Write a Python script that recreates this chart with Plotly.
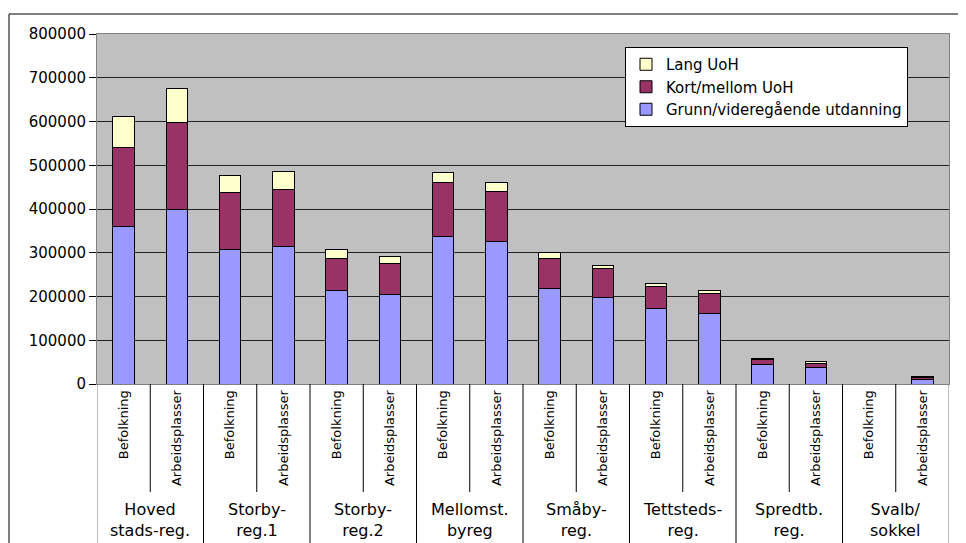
import plotly.graph_objects as go

# ---- data ----
regions = ["Hoved<br>stads-reg.", "Storby-<br>reg.1", "Storby-<br>reg.2", "Mellomst.<br>byreg",
           "Småby-<br>reg.", "Tettsteds-<br>reg.", "Spredtb.<br>reg.", "Svalb/<br>sokkel"]
sub_labels = ["Befolkning", "Arbeidsplasser"]

grunn = [360000, 400000, 308000, 314000, 213000, 205000, 338000, 325000,
         219000, 198000, 173000, 161000, 45000, 38000, 0, 10700]
kort = [180000, 198000, 129000, 131000, 74000, 71000, 123000, 115000,
        68000, 65000, 50000, 46000, 12000, 10000, 0, 5300]
lang = [72000, 77000, 40000, 41000, 20000, 16000, 23000, 21000,
        14000, 8000, 7000, 7000, 1500, 3000, 0, 1500]

series_names = ["Grunn/videregående utdanning", "Kort/mellom UoH", "Lang UoH"]
series_colors = ["#9999FF", "#993366", "#FFFFCC"]

y_ticks = [0, 100000, 200000, 300000, 400000, 500000, 600000, 700000, 800000]

# ---- figure ----
n = len(regions) * len(sub_labels)
xs = list(range(n))
tick_text = [sub_labels[i % 2] for i in xs]

fig = go.Figure()
for name, vals, col in zip(series_names, [grunn, kort, lang], series_colors):
    fig.add_trace(go.Bar(
        x=xs, y=vals, name=name, width=0.4,
        marker=dict(color=col, line=dict(color="black", width=1)),
    ))

FONT = "DejaVu Sans, Arial, sans-serif"
OFF = 8                      # page body margin of the html page
W, H = 966 - OFF, 543 - OFF  # figure size
# plot area in page pixels: x 97..949, y 34..384
ml, mt = 97 - OFF, 34 - OFF
mr = W - (949 - OFF)
mb = H - (384 - OFF)
plot_h = H - mt - mb
plot_w = W - ml - mr

def py(page_y):  # page pixel y -> paper y
    return ((384 - OFF) - (page_y - OFF)) / plot_h

def px(page_x):  # page pixel x -> paper x
    return ((page_x - OFF) - ml) / plot_w

fig.update_layout(
    width=W, height=H,
    margin=dict(l=ml, r=mr, t=mt, b=mb, autoexpand=False),
    barmode="stack",
    paper_bgcolor="white",
    plot_bgcolor="#C0C0C0",
    font=dict(family=FONT, color="black"),
    showlegend=True,
    legend=dict(
        x=px(625), y=py(47), xanchor="left", yanchor="top",
        bgcolor="white", bordercolor="black", borderwidth=1,
        traceorder="reversed", font=dict(size=15, family=FONT),
        tracegroupgap=0,
    ),
    bargap=0.6,
)

fig.update_xaxes(
    range=[-0.5, n - 0.5],
    tickmode="array", tickvals=xs, ticktext=tick_text,
    tickangle=-90, tickfont=dict(size=13, family=FONT, color="black"),
    showgrid=False, zeroline=False,
    showline=True, linecolor="#808080", linewidth=1, mirror=True,
    ticks="",
)
fig.update_yaxes(
    range=[0, 800000],
    tickmode="array", tickvals=y_ticks, ticktext=[str(v) for v in y_ticks],
    tickfont=dict(size=15, family=FONT, color="black"),
    ticks="outside", ticklen=7, tickcolor="black",
    showgrid=True, gridcolor="#222222", gridwidth=1,
    zeroline=False,
    showline=True, linecolor="#808080", linewidth=1, mirror=True,
)

shapes = []
# separators in the category label area
for k in range(n + 1):
    xv = k - 0.5
    if k % 2 == 0:
        y_end = py(543 + 5)
        col = "#808080" if k in (0, n) else "black"
    else:
        y_end = py(492)
        col = "black"
    shapes.append(dict(type="line", xref="x", yref="paper",
                       x0=xv, x1=xv, y0=0, y1=y_end,
                       line=dict(color=col, width=1)))
# outer chart border (extends past the right and bottom edges)
shapes.append(dict(type="line", xref="paper", yref="paper",
                   x0=px(9), x1=px(966 + 10), y0=py(14), y1=py(14),
                   line=dict(color="black", width=1)))
shapes.append(dict(type="line", xref="paper", yref="paper",
                   x0=px(9), x1=px(9), y0=py(14), y1=py(543 + 10),
                   line=dict(color="black", width=1)))
fig.update_layout(shapes=shapes)

annotations = []
for g, lab in enumerate(regions):
    annotations.append(dict(
        x=2 * g + 0.5, y=py(520), xref="x", yref="paper",
        text=lab, showarrow=False, xanchor="center", yanchor="middle",
        font=dict(size=16, family=FONT, color="black"),
    ))
fig.update_layout(annotations=annotations)

fig.write_html("out.html")
